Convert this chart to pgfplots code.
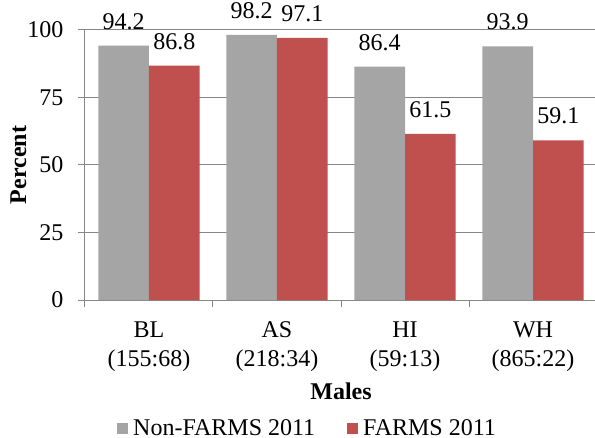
\documentclass[border=0pt]{standalone}
\usepackage{fontspec}
\setmainfont{Liberation Serif}
\usepackage{pgfplots}
\pgfplotsset{compat=1.18}

\definecolor{nonfarms}{HTML}{A5A5A5}
\definecolor{farms}{HTML}{C0504D}
\definecolor{gridgray}{HTML}{868686}
\newcommand{\chartfont}{\fontsize{24bp}{28.5bp}\selectfont}

\begin{document}
\begin{tikzpicture}
\begin{axis}[
  scale only axis, width=512bp, height=270bp,
  xmin=-0.5, xmax=3.5, ymin=0, ymax=100,
  ybar=0pt, bar width=0.395,
  axis x line*=bottom, axis y line*=left,
  axis line style={gridgray, line width=1bp, -},
  xtick={-0.5,0.5,1.5,2.5,3.5},
  x tick label as interval,
  xticklabels={{BL\\(155:68)},{AS\\(218:34)},{HI\\(59:13)},{WH\\(865:22)}},
  xticklabel style={align=center, font=\chartfont, yshift=-11.5bp},
  ytick={0,25,50,75,100},
  yticklabel style={font=\chartfont, xshift=-11bp},
  /pgf/number format/assume math mode=true,
  tick align=outside, major tick length=7bp,
  tick style={gridgray, line width=1bp},
  ymajorgrids, grid style={gridgray, line width=1bp},
  xlabel={\textbf{Males}},
  xlabel style={font=\chartfont, at={(axis description cs:0.5,0)}, anchor=base, yshift=-99bp},
  ylabel={\textbf{Percent}},
  ylabel style={font=\chartfont, at={(axis description cs:-0.1299,0.5)}, anchor=center},
  nodes near coords={\pgfmathprintnumber[fixed,fixed zerofill,precision=1,assume math mode=true]{\pgfplotspointmeta}},
  every node near coord/.append style={font=\chartfont, text=black, anchor=south, inner sep=0pt, yshift=16bp},
  legend columns=2,
  legend image code/.code={\fill[#1] (0bp,-6bp) rectangle (11bp,5bp);},
  legend style={draw=none, fill=none, inner sep=0pt, font=\chartfont,
    at={(axis description cs:0,0)}, anchor=north west, xshift=32bp, yshift=-119bp,
    nodes={inner sep=0pt},
    /tikz/every odd column/.append style={column sep=5bp},
    /tikz/every even column/.append style={column sep=32bp}},
  legend cell align=left,
]
\addplot[fill=nonfarms, draw=none] coordinates {(0,94.2) (1,98.2) (2,86.4) (3,93.9)};
\addlegendentry{Non-FARMS 2011}
\addplot[fill=farms, draw=none] coordinates {(0,86.8) (1,97.1) (2,61.5) (3,59.1)};
\addlegendentry{FARMS 2011}
\end{axis}
\pgfresetboundingbox
\path[use as bounding box] (-85bp,-138bp) rectangle (510bp,300bp);
\end{tikzpicture}
\end{document}
